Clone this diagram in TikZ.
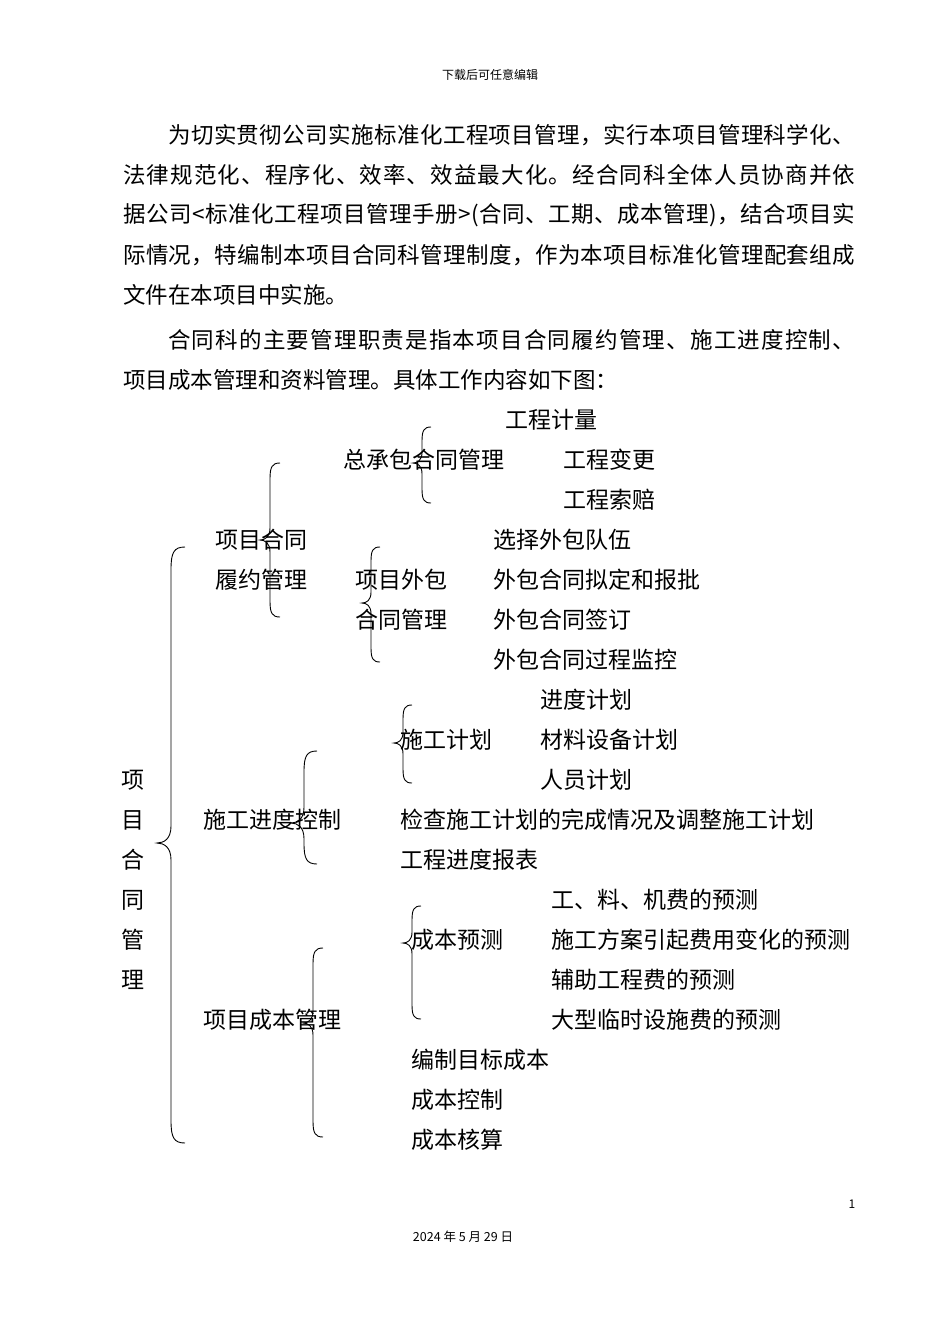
\documentclass[tikz,border=0pt]{standalone}
\usepackage{fontspec}
\newfontfamily\cjk{Noto Sans CJK SC}
\def\jlaux#1#2\jend{#1\if\relax\detokenize{#2}\relax\else\hfill\jlaux#2\jend\fi}
\newcommand\jline[2]{\makebox[#1][s]{\jlaux#2\jend}}
\newcommand\mybrace[5]{%
\draw[brc] ({#1+#5},#2) .. controls ({#1+0.2*#5},#2) and (#1,{#2+0.4*#5}) .. (#1,{#2+1.6*#5}) -- (#1,{#3-1.2*#5}) .. controls (#1,{#3-0.3*#5}) and ({#1-0.5*#5},#3) .. ({#1-#5},#3) .. controls ({#1-0.5*#5},#3) and (#1,{#3+0.3*#5}) .. (#1,{#3+1.2*#5}) -- (#1,{#4-1.6*#5}) .. controls (#1,{#4-0.4*#5}) and ({#1+0.2*#5},#4) .. ({#1+#5},#4);}
\tikzset{
 txt/.style={anchor=west,inner sep=0pt,font=\cjk\fontsize{23pt}{23pt}\selectfont},
 para/.style={anchor=west,inner sep=0pt,font=\cjk\fontsize{22.5pt}{23pt}\selectfont},
 vtxt/.style={anchor=center,inner sep=0pt,font=\cjk\fontsize{23pt}{23pt}\selectfont},
 small/.style={inner sep=0pt,font=\cjk\fontsize{12pt}{12pt}\selectfont},
 brc/.style={draw=black,line width=0.9pt},
}
\begin{document}
\begin{tikzpicture}[x=1pt,y=-1pt]
\useasboundingbox[fill=white] (0,0) rectangle (950,1344);
% header
\node[small] (hdr) at (490,75) {下载后可任意编辑};
% paragraph
\node[para] (l1) at (168,135) {\jline{687pt}{为切实贯彻公司实施标准化工程项目管理，实行本项目管理科学化、}};
\node[para] (l2) at (123,175) {\jline{732pt}{法律规范化、程序化、效率、效益最大化。经合同科全体人员协商并依}};
\node[para] (l3) at (123,215) {\jline{732pt}{据公司<标准化工程项目管理手册>(合同、工期、成本管理)，结合项目实}};
\node[para] (l4) at (123,255) {\jline{732pt}{际情况，特编制本项目合同科管理制度，作为本项目标准化管理配套组成}};
\node[para] (l5) at (123,295) {文件在本项目中实施。};
\node[para] (l6) at (168,340) {\jline{687pt}{合同科的主要管理职责是指本项目合同履约管理、施工进度控制、}};
\node[para] (l7) at (123,380) {项目成本管理和资料管理。具体工作内容如下图：};
% diagram texts
\node[txt] (a1) at (505,420) {工程计量};
\node[txt] (a0) at (343,460) {总承包合同管理};
\node[txt] (a2) at (563,460) {工程变更};
\node[txt] (a3) at (563,500) {工程索赔};
\node[txt] (b0a) at (215,540) {项目合同};
\node[txt] (b0b) at (215,580) {履约管理};
\node[txt] (c1) at (493,540) {选择外包队伍};
\node[txt] (c0a) at (355,580) {项目外包};
\node[txt] (c0b) at (355,620) {合同管理};
\node[txt] (c2) at (493,580) {外包合同拟定和报批};
\node[txt] (c3) at (493,620) {外包合同签订};
\node[txt] (c4) at (493,660) {外包合同过程监控};
\node[txt] (d1) at (540,700) {进度计划};
\node[txt] (d0) at (400,740) {施工计划};
\node[txt] (d2) at (540,740) {材料设备计划};
\node[txt] (d3) at (540,780) {人员计划};
\node[txt] (e0) at (203,820) {施工进度控制};
\node[txt] (e1) at (400,820) {检查施工计划的完成情况及调整施工计划};
\node[txt] (e2) at (400,860) {工程进度报表};
\node[txt] (f1) at (551,900) {工、料、机费的预测};
\node[txt] (f0) at (411,940) {成本预测};
\node[txt] (f2) at (551,940) {施工方案引起费用变化的预测};
\node[txt] (f3) at (551,980) {辅助工程费的预测};
\node[txt] (g0) at (203,1020) {项目成本管理};
\node[txt] (f4) at (551,1020) {大型临时设施费的预测};
\node[txt] (g1) at (411,1060) {编制目标成本};
\node[txt] (g2) at (411,1100) {成本控制};
\node[txt] (g3) at (411,1140) {成本核算};
% vertical root
\node[vtxt] (r1) at (133,780) {项};
\node[vtxt] (r2) at (133,820) {目};
\node[vtxt] (r3) at (133,860) {合};
\node[vtxt] (r4) at (133,900) {同};
\node[vtxt] (r5) at (133,940) {管};
\node[vtxt] (r6) at (133,980) {理};
% braces
\mybrace{422}{427}{463}{503}{9}
\mybrace{270}{463}{540}{617}{10}
\mybrace{371}{547}{603}{662}{9}
\mybrace{171}{547}{843}{1143}{14}
\mybrace{304}{751}{823}{864}{13}
\mybrace{403}{705}{743}{783}{9}
\mybrace{412}{906}{943}{1019}{9}
\mybrace{313}{948}{1023}{1137}{10}
% footer
\node[small,font=\cjk\fontsize{12pt}{12pt}\selectfont] (pg) at (852,1204) {1};
\node[small,font=\cjk\fontsize{12.5pt}{12.5pt}\selectfont] (dt) at (463,1237) {2024 年 5 月 29 日};
\end{tikzpicture}
\end{document}
